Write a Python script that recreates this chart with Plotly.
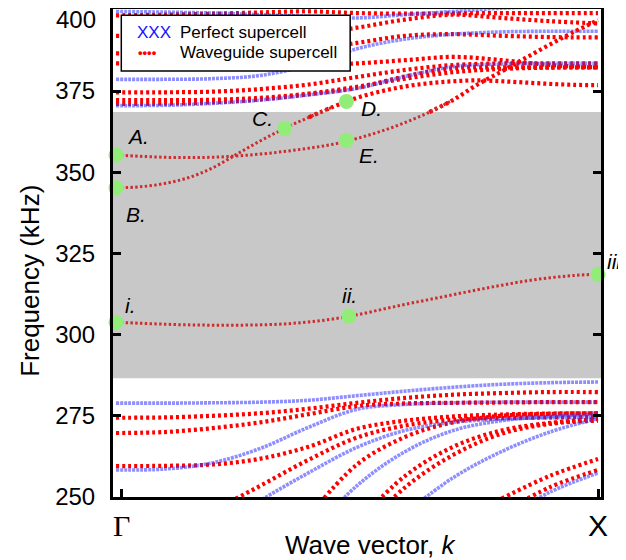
import plotly.graph_objects as go

# ---------------- data ----------------
K = [0.0, 0.1, 0.2, 0.3, 0.4, 0.5, 0.6, 0.7, 0.8, 0.9, 1.0]
K_GAP = [0.0, 0.05, 0.1, 0.15, 0.2, 0.25, 0.3, 0.35, 0.4, 0.45, 0.5,
         0.55, 0.6, 0.65, 0.7, 0.75, 0.8, 0.85, 0.9, 0.95, 1.0]

# band gap of the perfect supercell (kHz)
GAP = [286.6, 368.5]

# waveguide supercell: guided modes inside the gap (kHz, on K_GAP)
MODE_I = [303.8, 303.5, 303.2, 303.0, 302.9, 302.9, 303.0, 303.3, 303.9, 304.8, 306.1,
          307.7, 309.3, 310.8, 312.3, 313.8, 315.2, 316.5, 317.5, 318.2, 318.6]
MODE_A = [355.3, 354.9, 354.6, 354.5, 354.6, 355.0, 355.6, 356.4, 357.4, 358.6, 360.4,
          362.6, 365.3, 368.5, 372.3, 377.0, 381.0, 385.2, 389.3, 393.2, 396.8]
MODE_B = [345.2, 345.5, 346.5, 348.3, 351.3, 355.5, 359.7, 363.5, 366.9, 370.1, 372.9,
          374.9, 376.4, 377.4, 378.0, 378.3, 378.0, 377.6, 377.2, 376.9, 376.8]

# waveguide supercell: bulk bands (kHz, on K; None = below the plotted range)
WAVEGUIDE = [
    [398.3, 398.5, 398.8, 399.2, 399.5, 399.0, 398.8, 398.9, 399.0, 399.0, 399.0],
    [392.0, 392.0, 391.8, 391.8, 392.5, 394.5, 397.0, 398.5, 397.5, 396.5, 395.8],
    [386.6, 386.6, 386.5, 386.8, 387.8, 389.8, 392.0, 392.5, 392.0, 391.6, 391.5],
    [383.5, 383.4, 383.0, 382.8, 383.0, 383.5, 384.5, 385.5, 384.5, 383.0, 382.3],
    [374.6, 374.6, 374.8, 375.6, 377.0, 379.3, 381.5, 383.0, 383.5, 383.5, 383.5],
    [372.2, 372.2, 372.3, 372.9, 374.2, 376.3, 378.8, 380.8, 381.8, 382.2, 382.3],
    [371.0, 371.1, 371.5, 372.4, 374.0, 376.0, 379.5, 382.0, 382.3, 382.3, 382.3],
    [274.4, 274.5, 275.0, 275.8, 277.2, 279.0, 280.5, 281.5, 282.0, 282.3, 282.3],
    [269.7, 270.0, 271.2, 273.0, 275.5, 278.0, 278.8, 279.0, 279.1, 279.2, 279.2],
    [259.5, 259.6, 260.0, 261.8, 265.5, 271.0, 273.5, 274.8, 275.4, 275.7, 275.8],
    [None, 236.0, 245.5, 253.5, 261.5, 268.3, 272.0, 273.8, 274.3, 274.5, 274.6],
    [None, None, None, None, 244.0, 260.0, 268.5, 273.0, 275.0, 275.6, 275.8],
    [None, None, None, None, None, 242.0, 256.5, 265.5, 270.5, 272.8, 274.0],
    [None, None, None, None, None, 238.0, 253.0, 263.0, 269.5, 272.5, 273.5],
    [None, None, None, None, None, None, None, None, 249.5, 256.5, 261.7],
    [None, None, None, None, None, None, None, None, 245.0, 253.0, 258.3],
]

# perfect supercell bands (kHz, on K; None = outside the plotted range)
PERFECT = [
    [399.5, 399.3, 399.0, 398.5, 398.0, 397.5, 398.5, 399.5, 400.5, 401.0, 401.0],
    [378.6, 378.6, 378.8, 379.8, 383.0, 388.0, 391.0, 392.5, 393.2, 393.4, 393.4],
    [370.5, 370.6, 371.2, 372.2, 373.8, 375.8, 379.5, 382.5, 383.3, 383.5, 383.5],
    [278.9, 278.9, 279.0, 279.2, 279.8, 281.2, 282.6, 283.8, 284.7, 285.2, 285.4],
    [258.3, 258.6, 260.5, 265.0, 271.5, 277.0, 278.5, 279.0, 279.2, 279.2, 279.2],
    [None, 230.0, 240.0, 249.0, 257.5, 265.3, 270.5, 273.0, 274.0, 274.4, 274.6],
    [None, None, None, None, 238.0, 253.5, 264.0, 270.5, 273.5, 274.8, 275.5],
    [None, None, None, None, None, None, 245.0, 256.0, 264.0, 270.0, 274.2],
    [None, None, None, None, None, None, None, None, 243.0, 251.5, 257.4],
]

# highlighted modes: label, k, frequency (kHz)
POINT_LABELS = ["i.", "ii.", "iii.", "A.", "B.", "C.", "D.", "E."]
POINT_K = [0.0, 0.483, 1.0, 0.0, 0.0, 0.35, 0.478, 0.478]
POINT_F = [303.8, 305.7, 318.6, 355.3, 345.2, 363.5, 371.8, 359.8]

Y_TICKS = [250, 275, 300, 325, 350, 375, 400]
Y_TICKTEXT = ["250", "275", "300", "325", "350", "375", ""]   # "400" is written below the top edge
TOP_TICK_LABEL = "400"
X_TICKVALS = [0.012, 1.0]
X_TICKTEXT = ['<span style="font-family:Liberation Serif, Times New Roman, serif">Γ</span>', "X"]

# ---------------- figure ----------------
fig = go.Figure()

RED = "rgb(255,0,0)"
GAP_RED = "rgb(205,45,45)"
BLUE = "rgba(50,50,255,0.55)"

for band in WAVEGUIDE:
    fig.add_trace(go.Scatter(x=K, y=band, mode="lines", line_shape="spline",
                             line=dict(color=RED, width=4.2, dash="3px,3px"),
                             hoverinfo="skip", showlegend=False))

for band in PERFECT:
    fig.add_trace(go.Scatter(x=K, y=band, mode="lines", line_shape="spline",
                             line=dict(color=BLUE, width=3.6, dash="3px,1px"),
                             hoverinfo="skip", showlegend=False))


def split_gap(vals):
    inside, outside = [], []
    n = len(vals)
    for j, v in enumerate(vals):
        inn = GAP[0] <= v <= GAP[1]
        nb_in = any(GAP[0] <= vals[m] <= GAP[1] for m in (j - 1, j + 1) if 0 <= m < n)
        nb_out = any(not (GAP[0] <= vals[m] <= GAP[1]) for m in (j - 1, j + 1) if 0 <= m < n)
        inside.append(v if (inn or nb_in) else None)
        outside.append(v if ((not inn) or nb_out) else None)
    return inside, outside


for mode in (MODE_I, MODE_A, MODE_B):
    inside, outside = split_gap(mode)
    fig.add_trace(go.Scatter(x=K_GAP, y=outside, mode="lines", line_shape="spline",
                             line=dict(color=RED, width=4.2, dash="3px,3px"),
                             hoverinfo="skip", showlegend=False))
    fig.add_trace(go.Scatter(x=K_GAP, y=inside, mode="lines", line_shape="spline",
                             line=dict(color=GAP_RED, width=3, dash="2.4px,2.4px"),
                             hoverinfo="skip", showlegend=False))

fig.add_trace(go.Scatter(x=POINT_K, y=POINT_F, mode="markers",
                         marker=dict(color="rgb(146,236,120)", size=15),
                         cliponaxis=False, hoverinfo="skip", showlegend=False))

# labels of the highlighted modes (pixel offsets from each point)
label_offsets = {
    "i.": (7, 17, "left"), "ii.": (1, 21, "center"), "iii.": (7, 13, "left"),
    "A.": (9, 18, "left"), "B.": (8, -27, "left"), "C.": (-10, 10, "right"),
    "D.": (13, -7, "left"), "E.": (11, -15, "left"),
}
for lab, k, f in zip(POINT_LABELS, POINT_K, POINT_F):
    dx, dy, anc = label_offsets[lab]
    fig.add_annotation(x=k, y=f, text=f"<i>{lab}</i>", showarrow=False,
                       xshift=dx, yshift=dy, xanchor=anc, yanchor="middle",
                       font=dict(size=21, color="black", family="Arial, Liberation Sans"))

# band gap shading
fig.add_shape(type="rect", xref="paper", yref="y", x0=0, x1=1, y0=GAP[0], y1=GAP[1],
              fillcolor="rgb(200,200,200)", line_width=0, layer="below")

# legend box (drawn by hand to reproduce the XXX / dots symbols)
fig.add_shape(type="rect", xref="paper", yref="paper", x0=0.017, x1=0.486, y0=0.873, y1=0.987,
              fillcolor="white", line=dict(color="black", width=1.5), layer="above")
fig.add_annotation(xref="paper", yref="paper", x=0.045, y=0.951, text="XXX", showarrow=False,
                   xanchor="left", yanchor="middle",
                   font=dict(size=17, color="rgb(20,20,255)", family="Arial, Liberation Sans"))
fig.add_annotation(xref="paper", yref="paper", x=0.047, y=0.910, text="<b>••••</b>", showarrow=False,
                   xanchor="left", yanchor="middle",
                   font=dict(size=13, color="rgb(255,0,0)", family="Arial, Liberation Sans"))
fig.add_annotation(xref="paper", yref="paper", x=0.133, y=0.951, text="Perfect supercell",
                   showarrow=False, xanchor="left", yanchor="middle",
                   font=dict(size=17, color="black", family="Arial, Liberation Sans"))
fig.add_annotation(xref="paper", yref="paper", x=0.133, y=0.910, text="Waveguide supercell",
                   showarrow=False, xanchor="left", yanchor="middle",
                   font=dict(size=17, color="black", family="Arial, Liberation Sans"))

# top tick label, kept just inside the page
fig.add_annotation(xref="paper", yref="y", x=0, y=Y_TICKS[-1], text=TOP_TICK_LABEL,
                   showarrow=False, xanchor="right", yanchor="middle", xshift=-15, yshift=-10,
                   font=dict(size=24, color="black", family="Arial, Liberation Sans"))

# axis titles
fig.add_annotation(xref="paper", yref="paper", x=-0.170, y=0.443, text="Frequency (kHz)",
                   textangle=-90, showarrow=False, xanchor="center", yanchor="middle",
                   font=dict(size=26, color="black", family="Arial, Liberation Sans"))
fig.add_annotation(xref="paper", yref="paper", x=0.529, y=-0.098, text="Wave vector, <i>k</i>",
                   showarrow=False, xanchor="center", yanchor="middle",
                   font=dict(size=26, color="black", family="Arial, Liberation Sans"))

# the page body has an 8px margin: figure is sized to fit the 626x560 window
fig.update_layout(
    width=618, height=552,
    margin=dict(l=105, r=25, t=1, b=63),
    plot_bgcolor="white", paper_bgcolor="white",
    font=dict(family="Arial, Liberation Sans", color="black"),
)
fig.update_xaxes(range=[-0.0062, 1.0062], tickvals=X_TICKVALS, ticktext=X_TICKTEXT,
                 tickfont=dict(size=30), ticks="inside", ticklen=8, tickwidth=3,
                 tickcolor="black", showline=True, linewidth=3, linecolor="black",
                 mirror=True, showgrid=False, zeroline=False, automargin=False,
                 ticklabelstandoff=0)
fig.update_yaxes(range=[250, 400.25], tickvals=Y_TICKS, ticktext=Y_TICKTEXT,
                 tickfont=dict(size=24),
                 ticks="inside", ticklen=8, tickwidth=3, tickcolor="black",
                 showline=True, linewidth=3, linecolor="black", mirror="ticks",
                 showgrid=False, zeroline=False, automargin=False,
                 ticklabelstandoff=10)

fig.write_html("out.html")
